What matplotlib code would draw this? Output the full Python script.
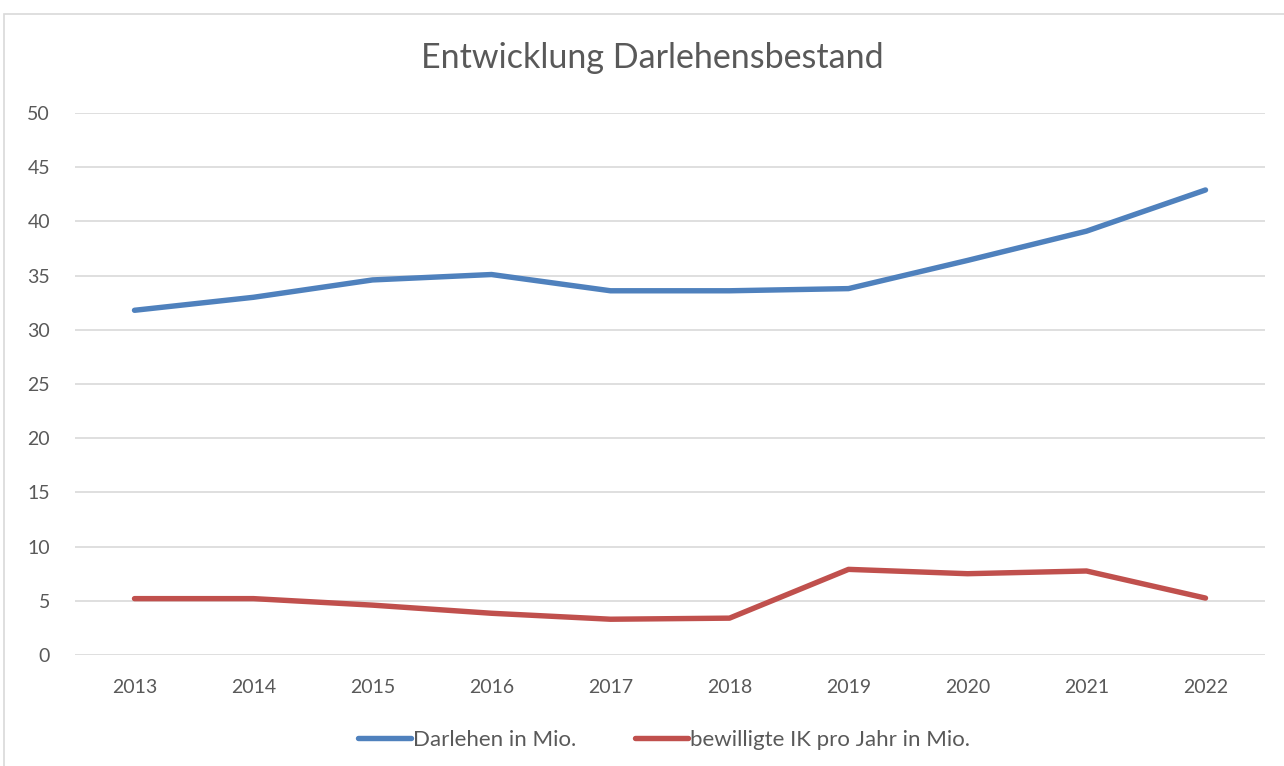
import matplotlib
matplotlib.use("Agg")
import matplotlib.pyplot as plt
from matplotlib.patches import Rectangle

years = ["2013", "2014", "2015", "2016", "2017", "2018", "2019", "2020", "2021", "2022"]
darlehen = [31.8, 33.0, 34.6, 35.1, 33.6, 33.6, 33.8, 36.4, 39.1, 42.9]
bewilligte_ik = [5.2, 5.2, 4.6, 3.85, 3.3, 3.4, 7.9, 7.5, 7.75, 5.25]

plt.rcParams["font.family"] = ["Lato", "DejaVu Sans"]
text_col = "#595959"

fig = plt.figure(figsize=(12.84, 7.66), dpi=100)
ax = fig.add_axes([75 / 1284, 1 - 655 / 766, 1190 / 1284, 542 / 766])

# chart border like the Excel chart area
fig.patches.append(Rectangle((4 / 1284, -0.1), 1.2, 1 - 14 / 766 + 0.1, transform=fig.transFigure,
                             fill=False, edgecolor="#d9d9d9", lw=1.2))

x = range(len(years))
ax.plot(x, darlehen, color="#4f81bd", lw=3.9, solid_capstyle="round", label="Darlehen in Mio.")
ax.plot(x, bewilligte_ik, color="#c0504d", lw=3.9, solid_capstyle="round",
        label="bewilligte IK pro Jahr in Mio.")

ax.set_xlim(-0.5, len(years) - 0.5)
ax.set_ylim(0, 50)
ax.set_yticks(range(0, 51, 5))
ax.set_xticks(list(x))
ax.set_xticklabels(years)
ax.grid(axis="y", color="#d9d9d9", lw=1.2)
ax.set_axisbelow(True)
for s in ax.spines.values():
    s.set_visible(False)
ax.tick_params(length=0, labelsize=14, labelcolor=text_col, pad=17)
ax.tick_params(axis="y", pad=18)

fig.text(652 / 1284, 1 - 58 / 766, "Entwicklung Darlehensbestand", ha="center", va="center",
         fontsize=24.5, color=text_col)

fig.legend(loc="center", bbox_to_anchor=(664 / 1284, 1 - 740 / 766), ncol=2, frameon=False,
           fontsize=16, labelcolor=text_col, handlelength=2.4, handletextpad=0.1, columnspacing=2.6)

fig.savefig("out.png", dpi=100, facecolor="white")
